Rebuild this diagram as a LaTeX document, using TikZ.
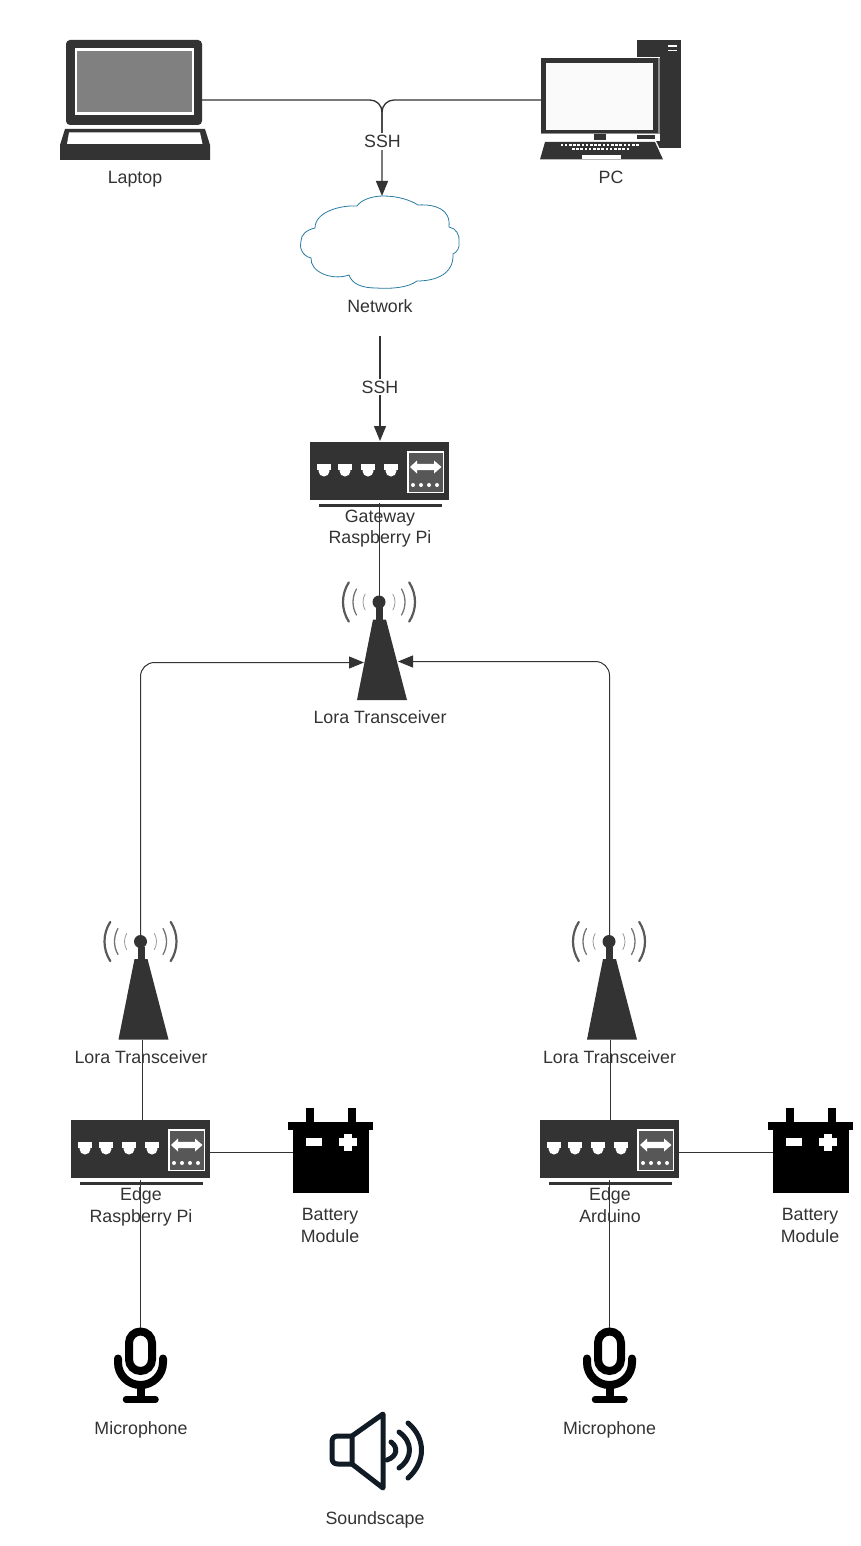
\documentclass[tikz,border=0pt]{standalone}
\usepackage{fontspec}
\setmainfont{Liberation Sans}
\usetikzlibrary{arrows.meta}
\definecolor{ink}{HTML}{333333}
\definecolor{speakerink}{HTML}{101B26}
\definecolor{cloudline}{HTML}{2A7CA3}
\tikzset{
  x=1pt,y=-1pt,
  lbl/.style={text=ink,font=\fontsize{17.8}{21.5}\selectfont,align=center,inner sep=0pt,text height=12.7pt,text depth=0pt},
  wire/.style={draw=ink,line width=1.3pt,rounded corners=12pt},
  thinwire/.style={draw=ink,line width=1pt},
  tip/.style={-{Triangle[length=15pt,width=12pt]}},
  anchorbox/.style={inner sep=0pt,outer sep=0pt,minimum width=#1},
  routerpic/.pic={
    \fill[ink] (0,0) rectangle (139,58);
    \fill[ink] (9,62) rectangle (132,65);
    \foreach \px in {14,35,58,81}{
      \fill[white] (\px-7,21.5) rectangle (\px+7,28);
      \fill[white] (\px,29) circle (5.5);
    }
    \fill[white] (97,9) rectangle (134,51);
    \fill[black!66] (98.5,10.5) rectangle (132.5,49.5);
    \fill[white] (100,25) -- (107,18.5) -- (107,21.8) -- (124,21.8) -- (124,18.5) -- (131.5,25) -- (124,31.5) -- (124,28.2) -- (107,28.2) -- (107,31.5) -- cycle;
    \foreach \px in {103,111,119,127}{\fill[white] (\px,43) circle (2);}
  },
  towerpic/.pic={
    \fill[ink] (-22,98) -- (-6,17.5) -- (7,17.5) -- (28,98) -- cycle;
    \fill[ink] (-3,5) rectangle (4,18);
    \fill[ink] (0,0) circle (6.5);
    \draw[black!65,line width=2.2pt,line cap=round] (147:36) arc[start angle=147,end angle=213,radius=36];
    \draw[black!65,line width=2.2pt,line cap=round] (33:36) arc[start angle=33,end angle=-33,radius=36];
    \draw[black!55,line width=1.3pt,line cap=round] (150:26) arc[start angle=150,end angle=210,radius=26];
    \draw[black!55,line width=1.3pt,line cap=round] (30:26) arc[start angle=30,end angle=-30,radius=26];
    \draw[black!40,line width=0.8pt,line cap=round] (150:16) arc[start angle=150,end angle=210,radius=16];
    \draw[black!40,line width=0.8pt,line cap=round] (30:16) arc[start angle=30,end angle=-30,radius=16];
  },
  batterypic/.pic={
    \fill[black] (5,22) rectangle (81,85);
    \fill[black] (0,14) rectangle (85,22);
    \fill[black] (18,0) rectangle (26,14);
    \fill[black] (60,0) rectangle (68,14);
    \fill[white] (18,30) rectangle (34,38);
    \fill[white] (56,25.5) rectangle (64,42.5);
    \fill[white] (51,30) rectangle (68.5,38);
  },
  micpic/.pic={
    \draw[black,line width=8pt] (-11.5,15.5) arc[start angle=180,end angle=360,radius=11.5] -- (11.5,32) arc[start angle=0,end angle=180,radius=11.5] -- cycle;
    \draw[black,line width=8pt,line cap=round] (-22.5,31) -- (-22.5,35) arc[start angle=180,end angle=0,radius=22.5] -- (22.5,31);
    \fill[black] (-4,56) rectangle (4,72);
    \draw[black,line width=6.5pt,line cap=round] (-14.5,72) -- (15,72);
  }
}
\begin{document}
\begin{tikzpicture}
\useasboundingbox (0,0) rectangle (860,1546);
% ---- anchor nodes of the devices
\node[anchorbox=136,minimum height=120] (laptop) at (134,100) {};
\node[anchorbox=140,minimum height=120] (pc) at (611,100) {};
\node[anchorbox=160,minimum height=92] (cloud) at (382,242) {};
\node[anchorbox=139,minimum height=58] (gw) at (379.5,471) {};
\node[anchorbox=74,minimum height=120] (twC) at (379,641) {};
\node[anchorbox=74,minimum height=120] (twL) at (140.5,981) {};
\node[anchorbox=74,minimum height=120] (twR) at (609,981) {};
\node[anchorbox=139,minimum height=58] (edgeL) at (140.5,1149) {};
\node[anchorbox=139,minimum height=58] (edgeR) at (609.5,1149) {};
\node[anchorbox=76,minimum height=85] (batL) at (331,1151) {};
\node[anchorbox=76,minimum height=85] (batR) at (811,1151) {};
\node[anchorbox=54,minimum height=76] (micL) at (140.5,1366) {};
\node[anchorbox=54,minimum height=76] (micR) at (609.5,1366) {};
% ---- laptop
\fill[ink,rounded corners=4pt] (66,40) rectangle (202,125);
\fill[white] (75,48.5) rectangle (194,115);
\fill[black!50] (77,51) rectangle (192,112);
\fill[ink] (65,129) -- (205,129) -- (210,145) -- (210,160) -- (60,160) -- (60,145) -- cycle;
\fill[white] (69,132.5) -- (200,132.5) -- (202.5,144) -- (67,144) -- cycle;
% ---- pc
\fill[ink] (637,40) rectangle (681,148);
\fill[white] (668,45.5) rectangle (677,46.7);
\fill[white] (668,49.6) rectangle (677,50.8);
\fill[white] (540,57) rectangle (660,141);
\fill[black!45] (541,58) rectangle (660,134);
\fill[ink] (541,58) rectangle (658,133);
\fill[white!98!black] (546,63) rectangle (653,130);
\fill[ink] (594,134) rectangle (606,140);
\fill[ink] (637,135) rectangle (655,139);
\fill[white] (543,141) -- (656,141) -- (665,160) -- (538,160) -- cycle;
\fill[ink] (545,142) -- (655,142) -- (663,159.5) -- (540,159.5) -- cycle;
\foreach \kx in {560.5,564.7,...,638}{\fill[white] (\kx,144.3) rectangle +(2.6,2);}
\foreach \kx in {572,576.2,...,627}{\fill[white] (\kx,148.5) rectangle +(2.6,2);}
\fill[white] (582,155) rectangle (621,159.5);
% ---- cloud
\draw[cloudline,line width=0.8pt,fill=white]
  (383,196) .. controls (398,196) and (410,200) .. (418,205)
  .. controls (435,204) and (451,209) .. (449,227)
  .. controls (456,228) and (460,235) .. (459,242)
  .. controls (460,248) and (457,252) .. (453,254)
  .. controls (454,274) and (436,281) .. (417,281)
  .. controls (408,288) and (390,289) .. (376,288)
  .. controls (362,288) and (352,284) .. (349,275)
  .. controls (332,281) and (310,272) .. (311,258)
  .. controls (302,256) and (299,247) .. (301,241)
  .. controls (301,235) and (306,230) .. (315,228)
  .. controls (315,212) and (340,205) .. (357,206)
  .. controls (361,200) and (372,196) .. (383,196) -- cycle;
% ---- device pictures
\pic at (310,442) {routerpic};
\pic at (71,1120) {routerpic};
\pic at (540,1120) {routerpic};
\pic at (379,602) {towerpic};
\pic at (140.5,941.5) {towerpic};
\pic at (609,941.5) {towerpic};
\pic at (288,1108) {batterypic};
\pic at (768,1108) {batterypic};
\pic at (140.5,1327.5) {micpic};
\pic at (609.5,1327.5) {micpic};
% ---- soundscape speaker
\begin{scope}[draw=speakerink,line width=5pt,line cap=round,line join=round]
  \draw (352,1436) -- (338,1436) .. controls (334,1436) and (332,1438) .. (332,1442) -- (332,1458) .. controls (332,1462) and (334,1464) .. (338,1464) -- (352,1464);
  \draw (352,1436) -- (383,1414) -- (383,1488) -- (352,1464) -- cycle;
  \draw (391,1442) .. controls (398,1447) and (398,1456) .. (387,1460);
  \draw (399,1432) .. controls (413,1442) and (413,1458) .. (399,1468);
  \draw (408,1423) .. controls (426,1438) and (426,1462) .. (408,1478);
\end{scope}
% ---- free ends of connectors
\coordinate (sshJoin) at (382,100);
\coordinate (netOut) at (380,336);
\coordinate (gwTop) at (380,441);
\coordinate (gwOut) at (379.5,503);
\coordinate (cTowerBall) at (379.5,600);
\coordinate (cTowerL) at (364,662.5);
\coordinate (cTowerR) at (398,661.5);
\coordinate (lBall) at (140.5,941);
\coordinate (rBall) at (609.5,941);
\coordinate (lTowerBase) at (142.5,1040);
\coordinate (rTowerBase) at (610.5,1040);
\coordinate (lEdgeTop) at (142.5,1120);
\coordinate (rEdgeTop) at (610.5,1120);
\coordinate (lEdgeOut) at (140.5,1180);
\coordinate (rEdgeOut) at (609.5,1180);
\coordinate (lEdgeE) at (210,1152.5);
\coordinate (rEdgeE) at (679,1152.5);
\coordinate (lBatW) at (293,1152.5);
\coordinate (rBatW) at (773,1152.5);
\coordinate (lMicTop) at (140.5,1328);
\coordinate (rMicTop) at (609.5,1328);
% ---- connectors
\draw[wire,tip] (laptop.east) -- (sshJoin) -- (cloud.north);
\draw[wire] (pc.west) -- (sshJoin) -- (382,150);
\draw[wire,tip] (netOut) -- (gwTop);
\draw[thinwire] (gwOut) -- (cTowerBall);
\draw[thinwire,rounded corners=14pt,tip] (lBall) -- (lBall |- cTowerL) -- (cTowerL);
\draw[thinwire,rounded corners=14pt,tip] (rBall) -- (rBall |- cTowerR) -- (cTowerR);
\draw[thinwire] (lTowerBase) -- (lEdgeTop);
\draw[thinwire] (rTowerBase) -- (rEdgeTop);
\draw[thinwire] (lEdgeE) -- (lBatW);
\draw[thinwire] (rEdgeE) -- (rBatW);
\draw[thinwire] (lEdgeOut) -- (lMicTop);
\draw[thinwire] (rEdgeOut) -- (rMicTop);
% ---- labels
\node[lbl,fill=white,inner sep=2pt] (ssh1) at (382.5,141.5) {SSH};
\node[lbl,fill=white,inner sep=2pt] (ssh2) at (380,387) {SSH};
\node[lbl] (tLaptop) at (135,177) {Laptop};
\node[lbl] (tPc) at (611,177) {PC};
\node[lbl] (tNet) at (380,306) {Network};
\node[lbl] (tGw) at (380,537.5) {Gateway\\Raspberry Pi};
\node[lbl] (tC) at (380,717) {Lora Transceiver};
\node[lbl] (tL) at (141,1057) {Lora Transceiver};
\node[lbl] (tR) at (609.5,1057) {Lora Transceiver};
\node[lbl] (tEL) at (141,1216) {Edge\\Raspberry Pi};
\node[lbl] (tER) at (610,1216) {Edge\\Arduino};
\node[lbl] (tBL) at (330,1236) {Battery\\Module};
\node[lbl] (tBR) at (810,1236) {Battery\\Module};
\node[lbl] (tML) at (141,1428) {Microphone};
\node[lbl] (tMR) at (609.5,1428) {Microphone};
\node[lbl] (tS) at (375,1518) {Soundscape};
\end{tikzpicture}
\end{document}
